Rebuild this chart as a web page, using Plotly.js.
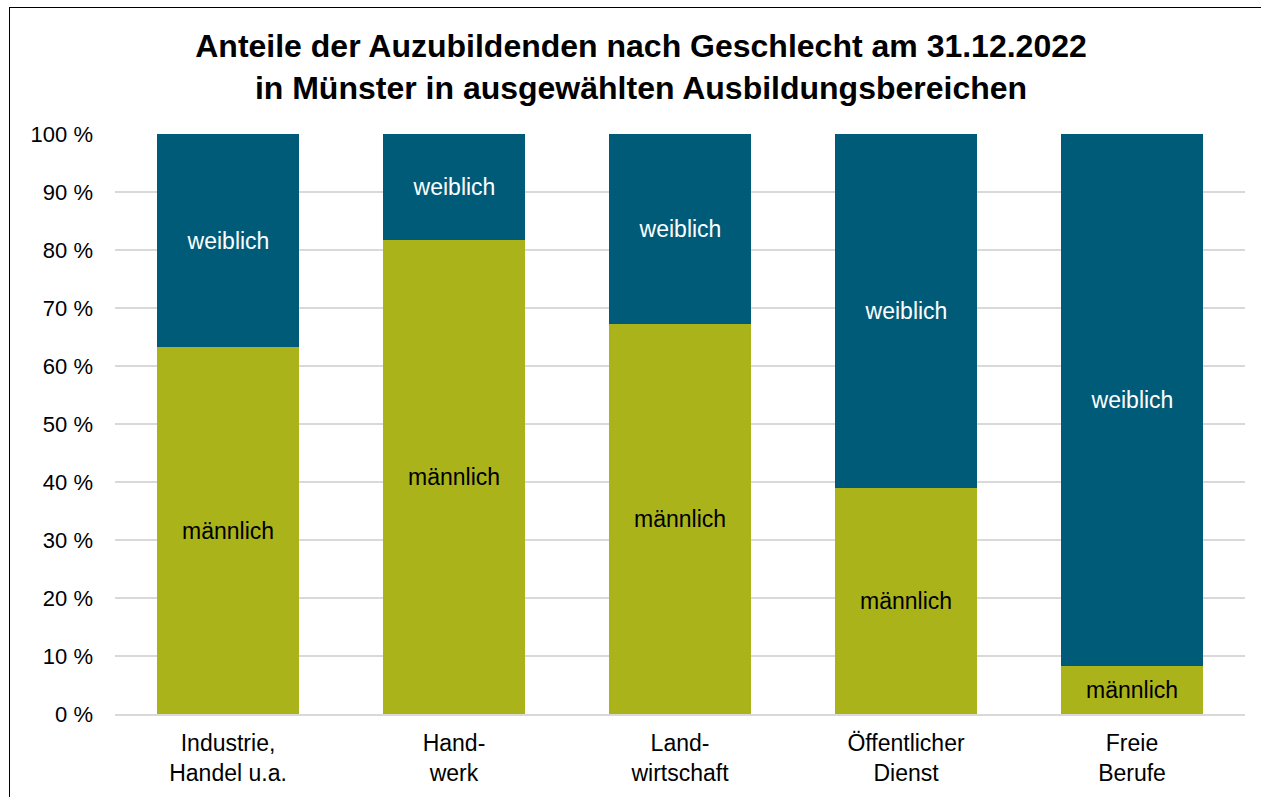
<!DOCTYPE html>
<html>
<head>
<meta charset="utf-8">
<script src="https://cdn.plot.ly/plotly-3.0.1.min.js"></script>
<style>
  html, body { margin: 0; padding: 0; background: #fff; }
  #frame { position: absolute; left: 9px; top: 7px; width: 1270px; height: 810px; border: 1.5px solid #000; box-sizing: border-box; }
  #chart { position: absolute; left: 0; top: 0; width: 1261px; height: 797px; }
</style>
</head>
<body>
<div id="chart"></div>
<div id="frame"></div>
<script>
const categories = ["Industrie,<br>Handel u.a.", "Hand-<br>werk", "Land-<br>wirtschaft", "Öffentlicher<br>Dienst", "Freie<br>Berufe"];
const maennlich = [63.2, 81.7, 67.3, 39.0, 8.3];
const weiblich = [36.8, 18.3, 32.7, 61.0, 91.7];
const yTickVals = [0, 10, 20, 30, 40, 50, 60, 70, 80, 90, 100];
const yTickText = ["0 %", "10 %", "20 %", "30 %", "40 %", "50 %", "60 %", "70 %", "80 %", "90 %", "100 %"];

const font = "Liberation Sans, Arial, sans-serif";

const traces = [
  {
    type: "bar", name: "männlich", x: categories, y: maennlich,
    marker: { color: "#aab31a" },
    text: maennlich.map(() => "männlich"),
    textposition: "inside", insidetextanchor: "middle", textangle: 0,
    constraintext: "none",
    insidetextfont: { family: font, size: 23, color: "#000" },
    hoverinfo: "y"
  },
  {
    type: "bar", name: "weiblich", x: categories, y: weiblich,
    marker: { color: "#005b78" },
    text: weiblich.map(() => "weiblich"),
    textposition: "inside", insidetextanchor: "middle", textangle: 0,
    constraintext: "none",
    insidetextfont: { family: font, size: 23, color: "#fff" },
    hoverinfo: "y"
  }
];

const layout = {
  width: 1261, height: 797,
  margin: { l: 115, r: 16, t: 134, b: 83 },
  paper_bgcolor: "#fff", plot_bgcolor: "#fff",
  barmode: "stack", bargap: 0.376,
  showlegend: false,
  font: { family: font, size: 22, color: "#000" },
  title: {
    text: "<b>Anteile der Auzubildenden nach Geschlecht am 31.12.2022<br>in Münster in ausgewählten Ausbildungsbereichen</b>",
    font: { family: font, size: 32, color: "#000" },
    x: 641 / 1261, xanchor: "center", xref: "container",
    y: 1 - 57 / 797, yanchor: "middle", yref: "container"
  },
  xaxis: {
    type: "category",
    showgrid: false, showline: true, linecolor: "#d9d9d9", linewidth: 1.5,
    ticks: "", ticklabelstandoff: 8,
    tickfont: { family: font, size: 23, color: "#000" }
  },
  yaxis: {
    range: [0, 100], tickvals: yTickVals, ticktext: yTickText,
    showgrid: true, gridcolor: "#d9d9d9", gridwidth: 1.5,
    zeroline: false, showline: false, ticks: "", ticklabelstandoff: 21,
    tickfont: { family: font, size: 22, color: "#000" }
  }
};

Plotly.newPlot("chart", traces, layout, { displayModeBar: false, staticPlot: true });
</script>
</body>
</html>
